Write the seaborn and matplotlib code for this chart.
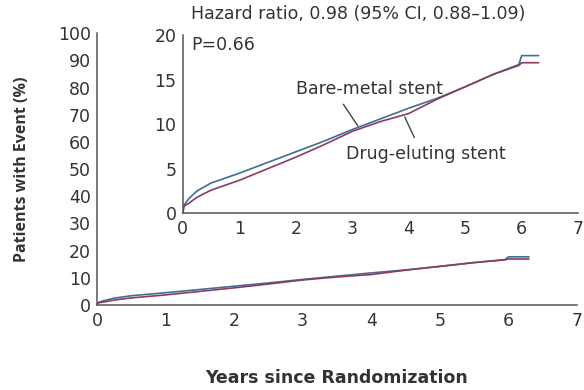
import matplotlib
matplotlib.use("Agg")
import matplotlib.pyplot as plt
import seaborn as sns
import pandas as pd

# ---- data ----
years = [0, 0.02, 0.1, 0.25, 0.5, 1, 1.5, 2, 2.5, 3, 3.5, 4, 4.5, 5, 5.5, 5.95, 6.0, 6.3]
bare_metal = [0, 0.9, 1.6, 2.5, 3.4, 4.5, 5.7, 6.9, 8.1, 9.4, 10.6, 11.8, 12.9, 14.2, 15.6, 16.7, 17.7, 17.7]
drug_eluting = [0, 0.8, 1.1, 1.8, 2.6, 3.7, 5.0, 6.3, 7.7, 9.2, 10.3, 11.2, 12.8, 14.2, 15.6, 16.6, 16.9, 16.9]
groups = ["Bare-metal stent", "Drug-eluting stent"]
main_yticks = list(range(0, 101, 10))
inset_yticks = [0, 5, 10, 15, 20]
xticks = list(range(0, 8))

df = pd.DataFrame({
    "Years": years + years,
    "Pct": bare_metal + drug_eluting,
    "Group": [groups[0]] * len(years) + [groups[1]] * len(years),
})

sns.set_theme(style="white")
plt.rcParams["font.family"] = ["DejaVu Sans"]
TXT = "#333333"
AX = "#555555"
palette = {groups[0]: "#3f6e96", groups[1]: "#8c3c5e"}
FS = 12.5

fig = plt.figure(figsize=(5.84, 3.90), dpi=100)
ax = fig.add_axes([0.166, 0.218, 0.822, 0.697])
ins = fig.add_axes([0.313, 0.453, 0.677, 0.457])


def style(a, yt, ylim):
    for s in ["top", "right"]:
        a.spines[s].set_visible(False)
    for s in ["left", "bottom"]:
        a.spines[s].set_color(AX)
        a.spines[s].set_linewidth(1.1)
    a.set_xlim(0, 7)
    a.set_ylim(*ylim)
    a.set_xticks(xticks)
    a.set_yticks(yt)
    a.tick_params(axis="x", direction="in", length=5, width=1.1, color=AX,
                  labelcolor=TXT, labelsize=FS, pad=5)
    a.tick_params(axis="y", direction="out", length=4, width=1.1, color=AX,
                  labelcolor=TXT, labelsize=FS, pad=0.5)
    a.set_xlabel("")
    a.set_ylabel("")


for a in (ax, ins):
    sns.lineplot(data=df, x="Years", y="Pct", hue="Group", palette=palette,
                 estimator=None, sort=False, legend=False, linewidth=1.2, ax=a)

style(ax, main_yticks, (0, 100))
style(ins, inset_yticks, (0, 20))
ins.patch.set_alpha(0)

ax.set_xlabel("Years since Randomization", fontsize=12.5, fontweight="bold",
              color=TXT, labelpad=28)
ax.set_ylabel("Patients with Event (%)", fontsize=11.5, fontweight="bold",
              family=["Open Sans", "DejaVu Sans"], color=TXT, labelpad=20)

# annotations in inset
ins.annotate("Bare-metal stent", xy=(3.10, 9.8), xytext=(3.31, 14.0),
             ha="center", va="center", fontsize=FS, color=TXT,
             arrowprops=dict(arrowstyle="-", color="#444444", lw=1.0,
                             shrinkA=3, shrinkB=0, relpos=(0.29, 0)))
ins.annotate("Drug-eluting stent", xy=(3.93, 10.8), xytext=(4.30, 6.7),
             ha="center", va="center", fontsize=FS, color=TXT,
             arrowprops=dict(arrowstyle="-", color="#444444", lw=1.0,
                             shrinkA=3, shrinkB=0, relpos=(0.45, 1)))

fig.text(191 / 584, 1 - 14 / 390, "Hazard ratio, 0.98 (95% CI, 0.88\u20131.09)",
         ha="left", va="center", fontsize=FS, color=TXT)
fig.text(191 / 584, 1 - 45 / 390, "P=0.66", ha="left", va="center",
         fontsize=FS, color=TXT)

fig.savefig("out.png", dpi=100)
